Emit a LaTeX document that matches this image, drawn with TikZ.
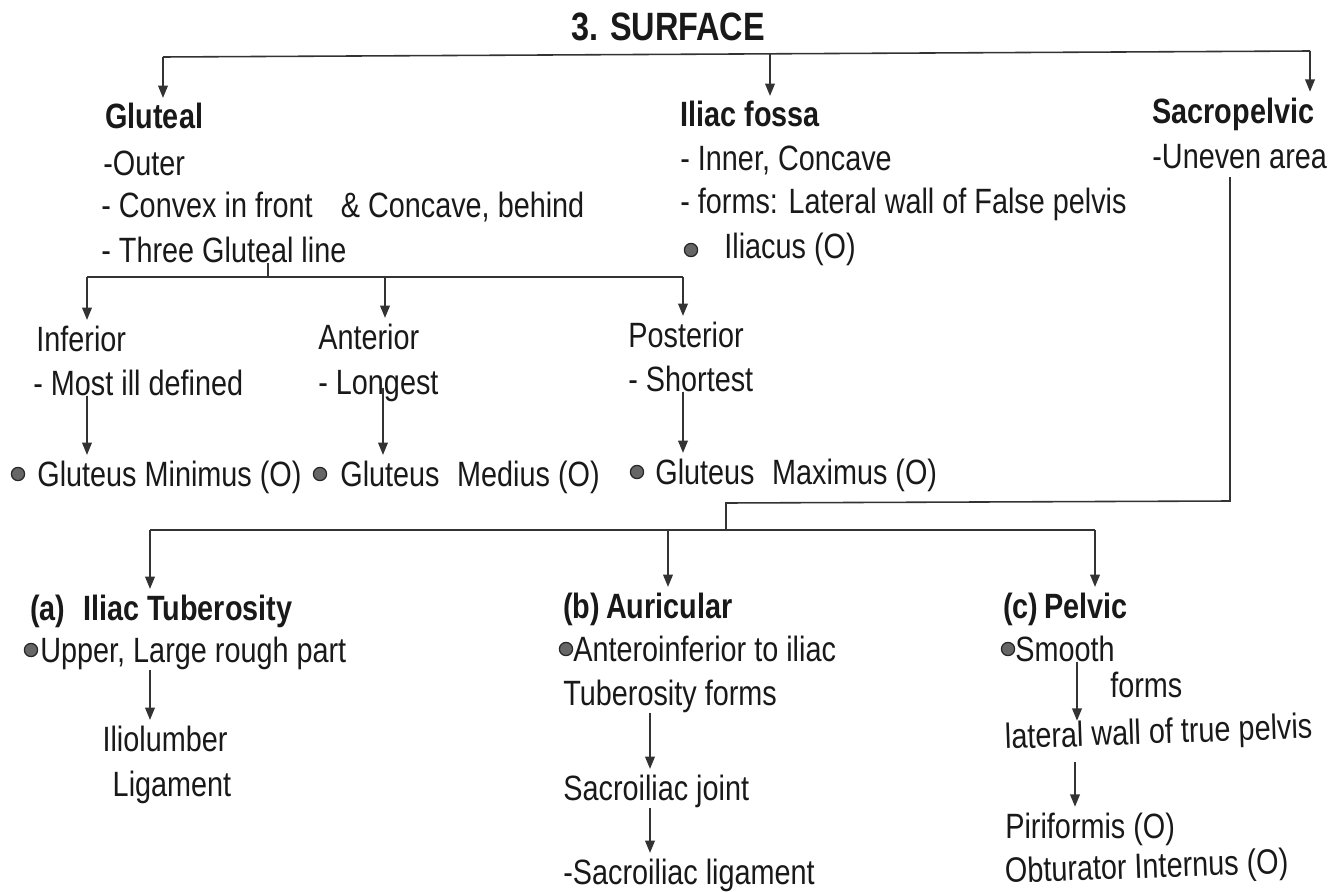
\documentclass[tikz,border=0pt]{standalone}
\usepackage{fontspec}
\setmainfont[FakeStretch=0.82]{Liberation Sans}
\usetikzlibrary{arrows.meta}
\begin{document}
\begin{tikzpicture}[x=0.02cm,y=-0.02cm,
  txt/.style={anchor=base west, inner sep=0pt, text=black!90, font=\fontsize{20}{24}\selectfont},
  hd/.style={txt, font=\fontsize{20}{24}\selectfont\bfseries},
  bul/.style={circle, fill=black!60, draw=black!85, line width=0.7pt, minimum size=7.5pt, inner sep=0pt},
  ln/.style={draw=black!80, line width=0.9pt},
  arr/.style={ln, -{Triangle[length=7pt,width=5.5pt]}, shorten >=3pt}]

\fill[white] (0,0) rectangle (1328,892);
\useasboundingbox (0,0) rectangle (1328,892);

% title
\node[txt, anchor=base, font=\fontsize{22.5}{26}\selectfont\bfseries] (title) at (668,41) {3. SURFACE};

% first level
\node[hd] (glut) at (105,129) {Gluteal};
\node[txt] (g1) at (103,175) {-Outer};
\node[txt] (g2) at (101,217) {- Convex in front\hspace{0.8em}\& Concave, behind};
\node[txt] (g3) at (101,262) {- Three Gluteal line};

\node[hd] (ilf) at (680,127) {Iliac fossa};
\node[txt] (i1) at (680,170) {- Inner, Concave};
\node[txt] (i2) at (680,213) {- forms: Lateral wall of False pelvis};
\node[bul] (ib) at (691,250) {};
\node[txt] (i3) at (724,258) {Iliacus (O)};

\node[hd] (sac) at (1152,124) {Sacropelvic};
\node[txt] (s1) at (1152,168) {-Uneven area};

\coordinate (tl) at (163,57);
\coordinate (tm) at (770,54);
\coordinate (tr) at (1310,51);
\draw[ln] (tl) -- (tr);
\draw[arr] (tl) -- (tl |- glut.north);
\draw[arr] (tm) -- (tm |- ilf.north);
\draw[arr] (tr) -- (1310,97);

% gluteal lines
\coordinate (gj) at (268,277);
\coordinate (gl) at (87,277);
\coordinate (gm) at (385,277);
\coordinate (gr) at (683,277);
\draw[ln] (gj |- g3.south) -- (gj);
\draw[ln] (gl) -- (gr);

\node[txt] (inf) at (36,351) {Inferior};
\node[txt] (inf1) at (33,395) {- Most ill defined};
\node[txt] (ant) at (318,349) {Anterior};
\node[txt] (ant1) at (318,394) {- Longest};
\node[txt] (pos) at (628,347) {Posterior};
\node[txt] (pos1) at (628,391) {- Shortest};

\draw[arr] (gl) -- (gl |- inf.north);
\draw[arr] (gm) -- (gm |- ant.north);
\draw[arr] (gr) -- (gr |- pos.north);

\node[bul] (bm1) at (18,474) {};
\node[txt] (gm1) at (37,486) {Gluteus Minimus (O)};
\node[bul] (bm2) at (320,474) {};
\node[txt] (gm2) at (340,486) {Gluteus\enspace Medius (O)};
\node[bul] (bm3) at (637,472) {};
\node[txt] (gm3) at (655,484) {Gluteus\enspace Maximus (O)};

\draw[arr] (87,408 |- inf1.south) -- (87,465 |- gm1.north);
\draw[arr] (383,388) -- (383,465 |- gm2.north);
\draw[arr] (683,405 |- pos1.south) -- (683,462 |- gm3.north);

% sacropelvic branch
\coordinate (sv) at (1230,177);
\coordinate (sb) at (1230,501);
\coordinate (sm) at (726,503);
\coordinate (sj) at (726,530);
\draw[ln] (sv) -- (sb) -- (sm) -- (sj);
\coordinate (pl) at (150,530);
\coordinate (pm) at (668,530);
\coordinate (pr) at (1095,530);
\draw[ln] (pl) -- (pr);

\node[hd] (a) at (30,620) {(a)\enspace Iliac Tuberosity};
\node[bul] (ab) at (31,650) {};
\node[txt] (a1) at (40,662) {Upper, Large rough part};
\node[txt, anchor=base] (il1) at (165,751) {Iliolumber};
\node[txt, anchor=base] (il2) at (172,796) {Ligament};

\node[hd] (b) at (563,618) {(b)\,Auricular};
\node[bul] (bb) at (566,649) {};
\node[txt] (b1) at (573,661) {Anteroinferior to iliac};
\node[txt] (b2) at (563,705) {Tuberosity forms};
\node[txt] (b3) at (563,800) {Sacroiliac joint};
\node[txt] (b4) at (563,884) {-Sacroiliac ligament};

\node[hd] (c) at (1003,618) {(c)\,Pelvic};
\node[bul] (cb) at (1008,649) {};
\node[txt] (c1) at (1015,661) {Smooth};
\node[txt] (cf) at (1110,697) {forms};
\node[txt, rotate=2] (c2) at (1005,749) {lateral wall of true pelvis};
\node[txt] (c3) at (1005,838) {Piriformis (O)};
\node[txt, rotate=2] (c4) at (1005,883) {Obturator Internus (O)};

\draw[arr] (pl) -- (pl |- a.north);
\draw[arr] (pm) -- (pm |- b.north);
\draw[arr] (pr) -- (pr |- c.north);

\draw[arr] (150,672 |- a1.south) -- (150,700 |- il1.north);
\draw[arr] (650,718 |- b2.south) -- (650,760 |- b3.north);
\draw[arr] (650,815 |- b3.south) -- (650,850 |- b4.north);
\draw[arr] (1077,672 |- c1.south) -- (1077,726);
\draw[arr] (1075,762) -- (1075,812);
\end{tikzpicture}
\end{document}
